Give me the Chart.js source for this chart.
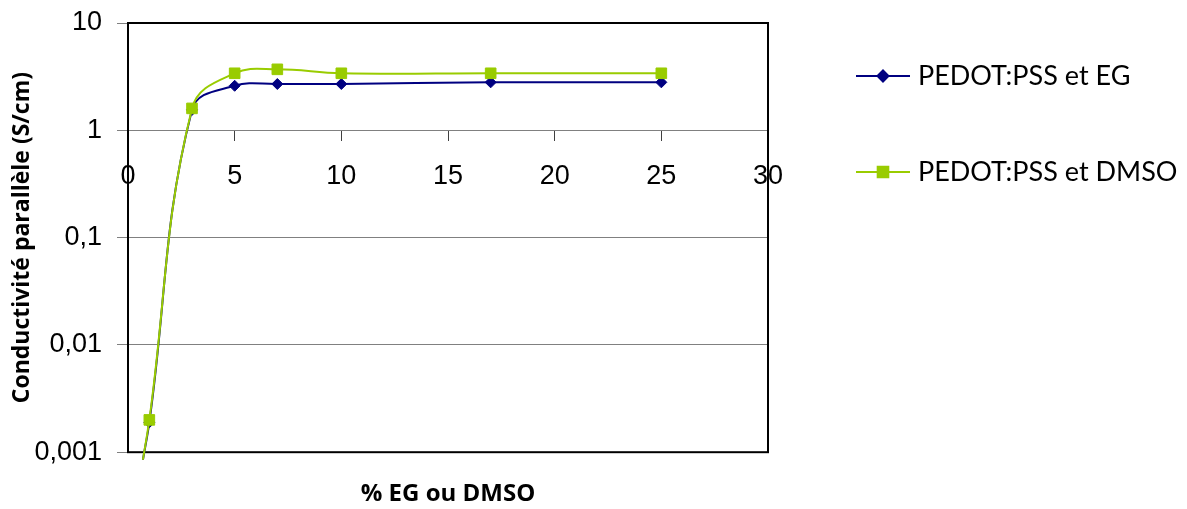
<!DOCTYPE html>
<html>
<head>
<meta charset="utf-8">
<script src="https://cdn.jsdelivr.net/npm/chart.js@4.4.1/dist/chart.umd.min.js"></script>
<style>
html, body { margin: 0; padding: 0; background: #fff; }
canvas { display: block; }
</style>
</head>
<body>
<canvas id="conductChart" width="1187" height="509"></canvas>
<script>
// ==================== DATA ====================
// first x is where the smoothed line runs out below the axis (no marker there)
const X_VALUES = [0.7, 1, 3, 5, 7, 10, 17, 25];
const EG_VALUES = [0.00085, 0.0019, 1.55, 2.6, 2.7, 2.7, 2.8, 2.8];
const DMSO_VALUES = [0.00085, 0.002, 1.6, 3.4, 3.7, 3.4, 3.4, 3.4];
const SERIES_LABELS = ['PEDOT:PSS et EG', 'PEDOT:PSS et DMSO'];
const X_TICKS = [0, 5, 10, 15, 20, 25, 30];
const Y_TICKS = [0.001, 0.01, 0.1, 1, 10];
const Y_TICK_LABELS = ['0,001', '0,01', '0,1', '1', '10'];
const X_TITLE = '% EG ou DMSO';
const Y_TITLE = 'Conductivité parallèle (S/cm)';

const TICK_FONT = { family: "'Liberation Sans', Arial, sans-serif", size: 27 };
const TITLE_FONT = "'Open Sans', sans-serif";

function toPoints(values) {
    return values.map((v, i) => ({ x: X_VALUES[i], y: v }));
}

function markerRadius(r) {
    return ctx => ctx.dataIndex === 0 ? 0 : r;
}

// ==================== PLUGINS ====================
const plotBorder = {
    id: 'plotBorder',
    beforeDatasetsDraw(chart) {
        const { ctx, chartArea: a } = chart;
        ctx.save();
        ctx.strokeStyle = '#000';
        ctx.lineWidth = 2;
        ctx.strokeRect(a.left, a.top, a.right - a.left, a.bottom - a.top);
        ctx.restore();
    }
};

// Excel-like legend: line through the marker, text on the right
const sideLegend = {
    id: 'sideLegend',
    afterDraw(chart) {
        const ctx = chart.ctx;
        const rows = [76, 172];
        chart.data.datasets.forEach((ds, i) => {
            const y = rows[i];
            ctx.save();
            ctx.strokeStyle = ds.borderColor;
            ctx.lineWidth = 2;
            ctx.beginPath();
            ctx.moveTo(856, y);
            ctx.lineTo(910, y);
            ctx.stroke();
            ctx.fillStyle = ds.pointBackgroundColor;
            ctx.strokeStyle = ds.pointBorderColor;
            Chart.helpers.drawPoint(ctx, {
                pointStyle: ds.pointStyle,
                radius: ds.legendRadius,
                borderWidth: 1,
                rotation: 0
            }, 883, y);
            ctx.fillStyle = '#000';
            ctx.font = "27px Lato, 'Open Sans', sans-serif";
            ctx.textBaseline = 'middle';
            ctx.textAlign = 'left';
            ctx.fillText(ds.label, 918, y);
            ctx.restore();
        });
    }
};

// ==================== CHART ====================
const conductChart = new Chart(document.getElementById('conductChart'), {
    type: 'line',
    data: {
        datasets: [
            {
                label: SERIES_LABELS[0],
                data: toPoints(EG_VALUES),
                borderColor: '#000080',
                backgroundColor: '#000080',
                borderWidth: 2,
                tension: 0.4,
                pointStyle: 'rectRot',
                pointRadius: markerRadius(5.5),
                legendRadius: 5.5,
                pointBackgroundColor: '#000080',
                pointBorderColor: '#000080',
                pointBorderWidth: 1,
                clip: false,
                order: 1
            },
            {
                label: SERIES_LABELS[1],
                data: toPoints(DMSO_VALUES),
                borderColor: '#99CC00',
                backgroundColor: '#99CC00',
                borderWidth: 2,
                tension: 0.4,
                pointStyle: 'rect',
                pointRadius: markerRadius(7.5),
                legendRadius: 7.5,
                pointBackgroundColor: '#99CC00',
                pointBorderColor: '#99CC00',
                pointBorderWidth: 1,
                clip: false,
                order: 0
            }
        ]
    },
    options: {
        responsive: false,
        animation: false,
        devicePixelRatio: 1,
        layout: { padding: { top: 23, right: 419, left: 0, bottom: 0 } },
        plugins: {
            legend: { display: false },
            tooltip: { enabled: false },
            title: {
                display: true,
                position: 'bottom',
                fullSize: false,
                text: X_TITLE,
                color: '#000',
                font: { family: TITLE_FONT, size: 24, weight: 'bold', lineHeight: 1.2 },
                padding: { top: 28, bottom: 0 }
            }
        },
        scales: {
            x: {
                type: 'linear',
                min: 0,
                max: 30,
                position: { y: 1 },
                afterBuildTicks: s => { s.ticks = X_TICKS.map(v => ({ value: v })); },
                afterFit: s => { s.height = 0; },
                border: { display: true, color: '#808080', width: 1 },
                grid: { drawOnChartArea: false, tickLength: 10, color: '#404040' },
                ticks: {
                    autoSkip: false,
                    maxRotation: 0,
                    padding: 20,
                    color: '#000',
                    font: TICK_FONT,
                    callback: v => String(v)
                }
            },
            y: {
                type: 'logarithmic',
                min: 0.001,
                max: 10,
                position: 'left',
                afterBuildTicks: s => { s.ticks = Y_TICKS.map(v => ({ value: v })); },
                // fixed axis width; drop the label overhang so the plot top stays at the layout padding
                afterFit: s => { s.width = 128; s.paddingTop = 0; s.paddingBottom = 0; },
                border: { display: false },
                grid: { color: '#808080', lineWidth: 1, tickLength: 11, tickColor: '#808080' },
                ticks: {
                    autoSkip: false,
                    padding: 15,
                    color: '#000',
                    font: TICK_FONT,
                    callback: v => {
                        const i = Y_TICKS.findIndex(t => Math.abs(Math.log10(t) - Math.log10(v)) < 1e-6);
                        return i >= 0 ? Y_TICK_LABELS[i] : '';
                    }
                },
                title: {
                    display: true,
                    text: Y_TITLE,
                    color: '#000',
                    font: { family: TITLE_FONT, size: 23, weight: 'bold', lineHeight: 1.2 },
                    padding: { top: 9, bottom: 0 }
                }
            }
        }
    },
    plugins: [plotBorder, sideLegend]
});
</script>
</body>
</html>
